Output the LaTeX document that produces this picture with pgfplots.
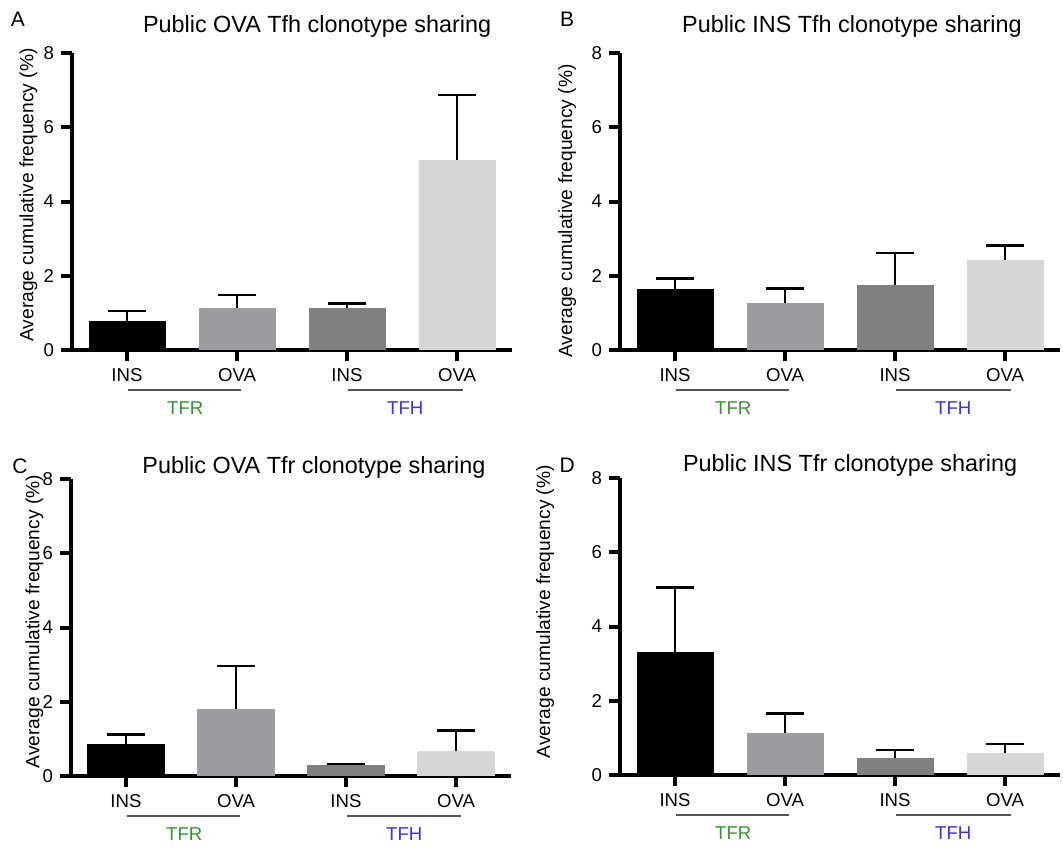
\documentclass[border=0pt]{standalone}
\usepackage{fontspec}
\setmainfont{Liberation Sans}
\usepackage{pgfplots}
\pgfplotsset{compat=1.18}
\definecolor{cTfrIns}{HTML}{000000}
\definecolor{cTfrOva}{HTML}{9D9CA1}
\definecolor{cTfhIns}{HTML}{808080}
\definecolor{cTfhOva}{HTML}{D6D6D6}
\definecolor{grpline}{HTML}{555555}
\definecolor{tfrgreen}{HTML}{2E9A2E}
\definecolor{tfhblue}{HTML}{3B2BFF}

\pgfplotsset{
  panel/.style={
    scale only axis, width=220pt, height=148.5pt,
    anchor=south west,
    xmin=-0.5, xmax=3.5, ymin=0, ymax=8,
    axis x line=bottom, axis y line=left,
    axis line style={-, line width=2pt},
    ytick={0,2,4,6,8}, xtick={0,1,2,3}, xticklabels={INS,OVA,INS,OVA},
    tick align=outside, major tick length=5.5pt,
    tick style={line width=2pt, black},
    ticklabel style={font=\fontsize{9.3}{11}\selectfont},
    /pgf/number format/assume math mode=true,
    clip=false,
    ylabel={Average cumulative frequency (\%)},
    ylabel style={font=\fontsize{9.6}{11}\selectfont, anchor=center},
    title style={anchor=base, font=\fontsize{11.7}{14}\selectfont},
  },
  bar/.style={ybar, bar width=38.5pt, bar shift=0pt, draw=none,
    error bars/y dir=plus, error bars/y explicit,
    error bars/error bar style={line width=1.3pt, black},
    error bars/error mark options={rotate=90, mark size=9.5pt, line width=1.3pt, black}},
}

% value, upper error for TFR INS, TFR OVA, TFH INS, TFH OVA
\newcommand\fourbars[8]{%
  \addplot[bar, fill=cTfrIns] coordinates {(0,#1) +- (0,#2)};
  \addplot[bar, fill=cTfrOva] coordinates {(1,#3) +- (0,#4)};
  \addplot[bar, fill=cTfhIns] coordinates {(2,#5) +- (0,#6)};
  \addplot[bar, fill=cTfhOva] coordinates {(3,#7) +- (0,#8)};
  \draw[line width=0.7pt, grpline] (axis cs:0.01,-1.077) -- (axis cs:1.04,-1.077);
  \draw[line width=0.7pt, grpline] (axis cs:2.01,-1.077) -- (axis cs:3.05,-1.077);
  \node[anchor=base, text=tfrgreen, font=\fontsize{9.3}{11}\selectfont] at (axis cs:0.53,-1.75) {TFR};
  \node[anchor=base, text=tfhblue, font=\fontsize{9.3}{11}\selectfont] at (axis cs:2.53,-1.75) {TFH};
}

\begin{document}
\begin{tikzpicture}
\useasboundingbox (0,0) rectangle (531.5pt,426.5pt);

% A
\begin{axis}[panel, at={(36pt,251.5pt)},
  title={Public OVA Tfh clonotype sharing}, title style={at={(0.557,1.027)}},
  ylabel style={at={(axis description cs:-0.099,0.522)}}]
\fourbars{0.79}{0.26}{1.12}{0.36}{1.12}{0.14}{5.12}{1.75}
\node[anchor=base, font=\fontsize{10.5}{12}\selectfont] at (rel axis cs:-0.123,1.088) {A};
\end{axis}

% B
\begin{axis}[panel, at={(310pt,251.5pt)},
  title={Public INS Tfh clonotype sharing}, title style={at={(0.527,1.027)}},
  ylabel style={at={(axis description cs:-0.12,0.468)}}]
\fourbars{1.64}{0.28}{1.26}{0.40}{1.75}{0.86}{2.43}{0.38}
\node[anchor=base, font=\fontsize{10.5}{12}\selectfont] at (rel axis cs:-0.12,1.088) {B};
\end{axis}

% C
\begin{axis}[panel, at={(35.5pt,38.5pt)},
  title={Public OVA Tfr clonotype sharing}, title style={at={(0.552,0.977)}},
  ylabel style={at={(axis description cs:-0.083,0.52)}}]
\fourbars{0.87}{0.25}{1.81}{1.15}{0.30}{0.02}{0.67}{0.56}
\node[anchor=base, font=\fontsize{10.5}{12}\selectfont] at (rel axis cs:-0.116,1.02) {C};
\end{axis}

% D
\begin{axis}[panel, at={(310pt,39pt)},
  title={Public INS Tfr clonotype sharing}, title style={at={(0.523,0.983)}},
  ylabel style={at={(axis description cs:-0.17,0.55)}}]
\fourbars{3.30}{1.75}{1.14}{0.52}{0.45}{0.22}{0.58}{0.25}
\node[anchor=base, font=\fontsize{10.5}{12}\selectfont] at (rel axis cs:-0.12,1.02) {D};
\end{axis}
\end{tikzpicture}
\end{document}
